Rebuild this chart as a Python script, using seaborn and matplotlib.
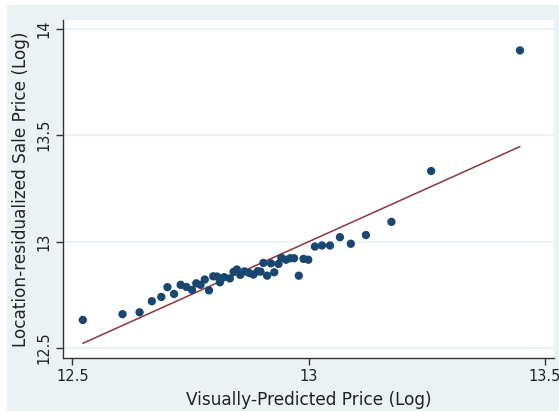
import matplotlib
matplotlib.use("Agg")
import matplotlib.pyplot as plt
import seaborn as sns
import pandas as pd
from matplotlib.patches import Rectangle

# binned means
predicted = [12.522, 12.606, 12.642, 12.668, 12.688, 12.701, 12.715, 12.729,
             12.741, 12.753, 12.762, 12.771, 12.780, 12.789, 12.798, 12.806,
             12.812, 12.821, 12.833, 12.841, 12.848, 12.855, 12.864, 12.874,
             12.883, 12.892, 12.898, 12.904, 12.912, 12.920, 12.927, 12.936,
             12.942, 12.952, 12.961, 12.969, 12.979, 12.989, 12.999, 13.013,
             13.028, 13.045, 13.066, 13.089, 13.121, 13.175, 13.259, 13.447]
sale_price = [12.632, 12.659, 12.668, 12.720, 12.740, 12.786, 12.754, 12.797,
              12.787, 12.773, 12.804, 12.797, 12.822, 12.771, 12.837, 12.836,
              12.809, 12.833, 12.827, 12.858, 12.869, 12.844, 12.860, 12.853,
              12.845, 12.861, 12.859, 12.900, 12.840, 12.898, 12.856, 12.895,
              12.924, 12.915, 12.922, 12.922, 12.840, 12.919, 12.915, 12.977,
              12.982, 12.982, 13.021, 12.990, 13.031, 13.093, 13.332, 13.899]
x_ticks = [12.5, 13, 13.5]
y_ticks = [12.5, 13, 13.5, 14]
tick_labels_x = ["12.5", "13", "13.5"]
tick_labels_y = ["12.5", "13", "13.5", "14"]

df = pd.DataFrame({"pred": predicted, "sale": sale_price})
line_df = pd.DataFrame({"x": [df.pred.min(), df.pred.max()]})
line_df["y"] = line_df["x"]  # 45 degree line

bg = "#eaf2f3"
sns.set_style("white")
plt.rcParams["font.family"] = ["DejaVu Sans"]

fig = plt.figure(figsize=(5.59, 4.11), dpi=100, facecolor=bg)
# white strips on the left/top border of the image
fig.patches.append(Rectangle((0, 0), 7 / 559, 1, transform=fig.transFigure,
                             facecolor="white", edgecolor="none", zorder=-1))
fig.patches.append(Rectangle((0, 1 - 5 / 411), 1, 5 / 411, transform=fig.transFigure,
                             facecolor="white", edgecolor="none", zorder=-1))

ax = fig.add_axes([63 / 559, 1 - 358 / 411, 491 / 559, 338 / 411])
ax.set_facecolor("white")

sns.lineplot(data=line_df, x="x", y="y", ax=ax, color="#90353b", lw=1.1, zorder=2)
sns.scatterplot(data=df, x="pred", y="sale", ax=ax, color="#1a476f", s=36,
                edgecolor="none", zorder=3)

ax.set_xlim(12.480, 13.519)
ax.set_ylim(12.453, 14.042)
ax.set_xticks(x_ticks, tick_labels_x)
ax.set_yticks(y_ticks, tick_labels_y)
for lab in ax.get_yticklabels():
    lab.set_rotation(90)
    lab.set_va("center")
ax.tick_params(axis="both", direction="out", length=5, width=1, color="#333333",
               labelsize=10.5, labelcolor="#222222", pad=3, left=True, bottom=True)
ax.yaxis.grid(True, color=bg, lw=1.2)
ax.xaxis.grid(False)
ax.set_axisbelow(True)
for s in ["top", "right"]:
    ax.spines[s].set_visible(False)
for s in ["left", "bottom"]:
    ax.spines[s].set_color("#333333")
    ax.spines[s].set_linewidth(1)

ax.set_xlabel("Visually-Predicted Price (Log)", fontsize=12.2, color="#222222", labelpad=5)
ax.set_ylabel("Location-residualized Sale Price (Log)", fontsize=12.2, color="#222222", labelpad=5)

fig.savefig("out.png", dpi=100, facecolor=bg)
